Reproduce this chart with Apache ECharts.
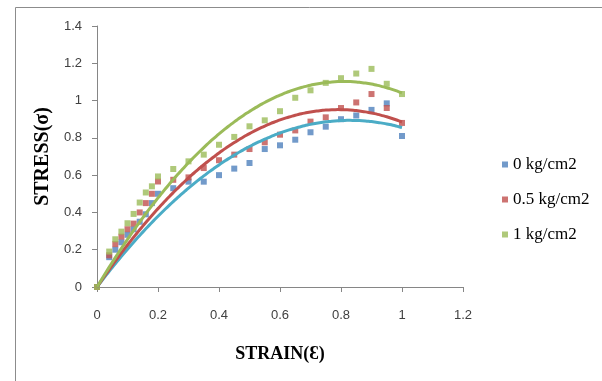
<!DOCTYPE html>
<html><head><meta charset="utf-8">
<script src="https://cdn.jsdelivr.net/npm/echarts@6/dist/echarts.min.js"></script>
<style>html,body{margin:0;padding:0;background:#fff}#c{width:602px;height:381px}</style>
</head><body><div id="c"></div>
<script>
const strain = [0, 0.04, 0.06, 0.08, 0.1, 0.12, 0.14, 0.16, 0.18, 0.2, 0.25, 0.3, 0.35, 0.4, 0.45, 0.5, 0.55, 0.6, 0.65, 0.7, 0.75, 0.8, 0.85, 0.9, 0.95, 1.0];
const stress0 = [0, 0.16, 0.20, 0.24, 0.28, 0.31, 0.35, 0.39, 0.45, 0.50, 0.53, 0.565, 0.565, 0.60, 0.635, 0.665, 0.74, 0.76, 0.79, 0.83, 0.86, 0.90, 0.92, 0.95, 0.985, 0.81];
const stress05 = [0, 0.17, 0.23, 0.27, 0.31, 0.34, 0.40, 0.45, 0.50, 0.566, 0.575, 0.588, 0.638, 0.68, 0.71, 0.74, 0.776, 0.817, 0.84, 0.887, 0.91, 0.96, 0.99, 1.035, 0.96, 0.88];
const stress1 = [0, 0.19, 0.256, 0.297, 0.342, 0.392, 0.453, 0.507, 0.54, 0.593, 0.633, 0.674, 0.71, 0.763, 0.805, 0.862, 0.894, 0.943, 1.015, 1.055, 1.095, 1.12, 1.145, 1.17, 1.09, 1.035];
const seriesNames = ['0 kg/cm2', '0.5 kg/cm2', '1 kg/cm2'];
const xTicks = [0, 0.2, 0.4, 0.6, 0.8, 1, 1.2];
const yTicks = [0, 0.2, 0.4, 0.6, 0.8, 1, 1.2, 1.4];

const pointColors = ['#4F81BD', '#C0504D', '#9BBB59'];
const lineColors = ['#4BACC6', '#C0504D', '#9BBB59'];

// least-squares quadratic trend through origin: y = a x + b x^2
function fit(xs, ys) {
  let s2=0,s3=0,s4=0,sy1=0,sy2=0;
  for (let i=0;i<xs.length;i++){const x=xs[i],y=ys[i];s2+=x*x;s3+=x*x*x;s4+=x*x*x*x;sy1+=x*y;sy2+=x*x*y;}
  const det=s2*s4-s3*s3;
  const a=(sy1*s4-sy2*s3)/det, b=(s2*sy2-s3*sy1)/det;
  const pts=[];
  for (let k=0;k<=100;k++){const x=k/100;pts.push([x,a*x+b*x*x]);}
  return pts;
}

const all = [stress0, stress05, stress1];
const series = [];
all.forEach((ys, i) => {
  series.push({
    name: seriesNames[i], type: 'scatter', symbol: 'rect', symbolSize: 6,
    itemStyle: {color: pointColors[i]}, z: 2,
    data: strain.map((x, j) => [x, ys[j]])
  });
});
all.forEach((ys, i) => {
  series.push({
    name: 'trend' + i, type: 'line', showSymbol: false, smooth: true, z: 3,
    lineStyle: {color: lineColors[i], width: 3}, itemStyle: {color: lineColors[i]},
    data: fit(strain, ys)
  });
});

const chart = echarts.init(document.getElementById('c'));
chart.setOption({
  animation: false,
  backgroundColor: '#fff',
  graphic: [{type: 'rect', shape: {x: 15.5, y: 7.5, width: 700, height: 500}, style: {fill: 'none', stroke: '#8c8c8c', lineWidth: 1}, silent: true}],
  grid: {left: 97, right: 139, top: 26, bottom: 94},
  legend: {
    data: seriesNames, orient: 'vertical', left: 497, top: 151,
    icon: 'rect', itemWidth: 6, itemHeight: 6, itemGap: 18,
    textStyle: {fontFamily: 'Liberation Serif', fontSize: 17, color: '#000'}
  },
  xAxis: {
    type: 'value', min: xTicks[0], max: xTicks[xTicks.length-1], interval: 0.2,
    name: 'STRAIN(Ɛ)', nameLocation: 'middle', nameGap: 58,
    nameTextStyle: {fontFamily: 'Liberation Serif', fontWeight: 'bold', fontSize: 18, color: '#000'},
    axisLine: {lineStyle: {color: '#868686'}},
    axisTick: {show: true, length: 5, lineStyle: {color: '#868686'}},
    axisLabel: {margin: 22, fontFamily: 'Liberation Sans', fontSize: 13, color: '#404040',
      formatter: v => { const t = xTicks.find(t => Math.abs(t - v) < 1e-9); return t === undefined ? '' : String(t); }},
    splitLine: {show: false}
  },
  yAxis: {
    type: 'value', min: yTicks[0], max: yTicks[yTicks.length-1], interval: 0.2,
    name: 'STRESS(σ)', nameLocation: 'middle', nameGap: 41,
    nameTextStyle: {fontFamily: 'Liberation Serif', fontWeight: 'bold', fontSize: 20, color: '#000'},
    axisLine: {show: true, lineStyle: {color: '#868686'}},
    axisTick: {show: true, length: 5, lineStyle: {color: '#868686'}},
    axisLabel: {margin: 15, fontFamily: 'Liberation Sans', fontSize: 13, color: '#404040',
      formatter: v => { const t = yTicks.find(t => Math.abs(t - v) < 1e-9); return t === undefined ? '' : String(t); }},
    splitLine: {show: false}
  },
  series: series
});
</script></body></html>
